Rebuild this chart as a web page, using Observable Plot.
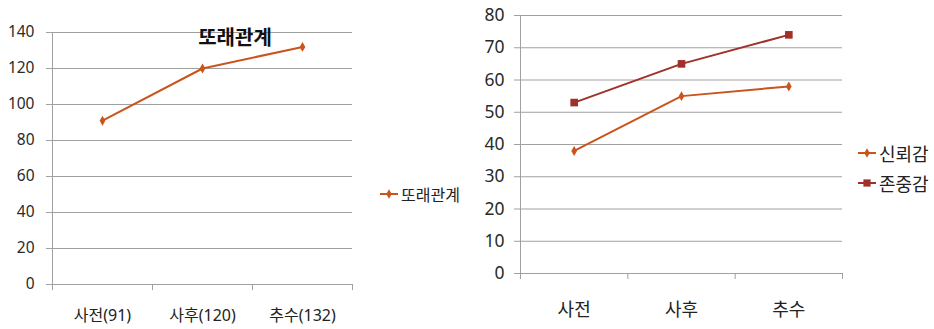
<!DOCTYPE html>
<html>
<head>
<meta charset="utf-8">
<script src="https://cdn.jsdelivr.net/npm/d3@7"></script>
<script src="https://cdn.jsdelivr.net/npm/@observablehq/plot@0.6"></script>
<style>
  body { margin: 0; background: #fff; }
  #wrap { position: relative; width: 934px; height: 329px; overflow: hidden;
          font-family: "Noto Sans", "Noto Sans CJK KR", sans-serif; color: #222; }
  .chart { position: absolute; top: 0; }
  .title { position: absolute; font-weight: bold; font-size: 20px; transform: translate(-50%, -50%);
           font-family: "Noto Sans CJK KR", sans-serif; color: #111; white-space: nowrap; }
  .legend-item { position: absolute; display: flex; align-items: center; transform: translateY(-50%);
                 white-space: nowrap; font-family: "Noto Sans CJK KR", sans-serif; color: #222; }
  .legend-item svg { margin-right: 2px; }
</style>
</head>
<body>
<div id="wrap"></div>
<script>
// 또래관계 (peer relations): pre / post / follow-up
const peerStages = ["사전(91)", "사후(120)", "추수(132)"];
const peerValues = [91, 120, 132];
const peerTicks = [0, 20, 40, 60, 80, 100, 120, 140];

// 신뢰감 / 존중감 (trust / respect)
const stages = ["사전", "사후", "추수"];
const trustValues = [38, 55, 58];
const respectValues = [53, 65, 74];
const selfTicks = [0, 10, 20, 30, 40, 50, 60, 70, 80];

const ORANGE = "#C9541C";
const DARKRED = "#A0302A";
const GRID = "#a0a0a0";

const wrap = document.getElementById("wrap");

function lineChart({cats, series, yTicks, width, height, margin, yFont, xFont, yPad, xPad}) {
  const rows = series.flatMap(s => s.values.map((v, i) => ({i, v, name: s.name})));
  const bounds = d3.range(cats.length + 1).map(k => k - 0.5);
  return Plot.plot({
    width, height,
    marginLeft: margin[3], marginRight: margin[1], marginTop: margin[0], marginBottom: margin[2],
    style: {fontFamily: '"Noto Sans", "Noto Sans CJK KR", sans-serif', background: "transparent", color: "#333"},
    x: {domain: [-0.5, cats.length - 0.5]},
    y: {domain: [0, d3.max(yTicks)]},
    marks: [
      Plot.gridY(yTicks, {stroke: GRID, strokeOpacity: 1}),
      Plot.axisY(yTicks, {tickSize: 6, stroke: GRID, strokeOpacity: 1, tickPadding: yPad, fontSize: yFont,
        fill: "#2a2a2a", label: null}),
      Plot.ruleX([-0.5], {stroke: GRID}),
      Plot.axisX(bounds, {tickSize: 6, stroke: GRID, strokeOpacity: 1, tickFormat: () => "", label: null}),
      Plot.axisX(d3.range(cats.length), {tickSize: 0, tickPadding: xPad, tickFormat: i => cats[i], fontSize: xFont,
        fill: "#222", label: null}),
      ...series.map(s => Plot.line(rows.filter(r => r.name === s.name), {x: "i", y: "v", stroke: s.color, strokeWidth: 2})),
      ...series.map(s => Plot.dot(rows.filter(r => r.name === s.name), {x: "i", y: "v", fill: s.color, stroke: "none",
        symbol: s.symbol, r: s.r}))
    ]
  });
}

function place(el, left) {
  el.classList.add("chart");
  el.style.left = left + "px";
  wrap.appendChild(el);
}

function legendItem(left, top, name, color, symbol, size) {
  const div = document.createElement("div");
  div.className = "legend-item";
  div.style.left = left + "px";
  div.style.top = top + "px";
  div.style.fontSize = size + "px";
  const sw = d3.create("svg").attr("width", 20).attr("height", 12);
  sw.append("line").attr("x1", 1).attr("x2", 19).attr("y1", 6).attr("y2", 6)
    .attr("stroke", color).attr("stroke-width", 2);
  sw.append("path").attr("transform", "translate(10,6)")
    .attr("d", d3.symbol(symbol === "square" ? d3.symbolSquare : d3.symbolDiamond, symbol === "square" ? 52 : 26)())
    .attr("fill", color);
  div.appendChild(sw.node());
  const t = document.createElement("span");
  t.textContent = name;
  div.appendChild(t);
  wrap.appendChild(div);
}

// Left: 또래관계
place(lineChart({
  cats: peerStages,
  series: [{name: "또래관계", values: peerValues, color: ORANGE, symbol: "diamond", r: 3}],
  yTicks: peerTicks,
  width: 360, height: 329, margin: [32, 8, 45, 52],
  yFont: 15.5, xFont: 16, yPad: 12, xPad: 25
}), 0);

const title = document.createElement("div");
title.className = "title";
title.textContent = "또래관계";
title.style.left = "235px";
title.style.top = "36px";
wrap.appendChild(title);

legendItem(379, 194, "또래관계", ORANGE, "diamond", 16);

// Right: 신뢰감 / 존중감
place(lineChart({
  cats: stages,
  series: [
    {name: "신뢰감", values: trustValues, color: ORANGE, symbol: "diamond", r: 3},
    {name: "존중감", values: respectValues, color: DARKRED, symbol: "square", r: 4.3}
  ],
  yTicks: selfTicks,
  width: 380, height: 329, margin: [15, 8, 56, 50],
  yFont: 17.5, xFont: 18, yPad: 10, xPad: 30
}), 470);

legendItem(857, 153, "신뢰감", ORANGE, "diamond", 18);
legendItem(857, 183, "존중감", DARKRED, "square", 18);
</script>
</body>
</html>
